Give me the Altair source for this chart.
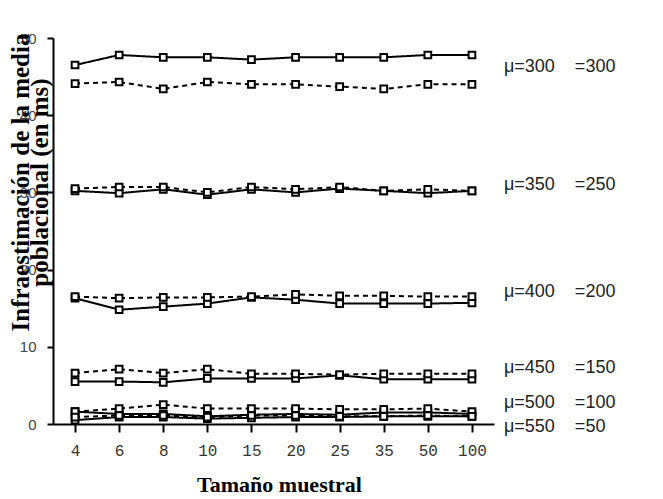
import altair as alt
import pandas as pd

sizes = ["4", "6", "8", "10", "15", "20", "25", "35", "50", "100"]

s300_solid = [46.5, 47.8, 47.5, 47.5, 47.2, 47.5, 47.5, 47.5, 47.8, 47.8]
s300_dash = [44.1, 44.3, 43.4, 44.3, 44.0, 44.0, 43.7, 43.4, 44.0, 44.0]
s350_solid = [30.2, 29.9, 30.4, 29.7, 30.4, 30.0, 30.5, 30.2, 29.9, 30.2]
s350_dash = [30.5, 30.7, 30.7, 30.0, 30.7, 30.4, 30.7, 30.2, 30.4, 30.2]
s400_solid = [16.3, 14.8, 15.2, 15.6, 16.4, 16.1, 15.6, 15.6, 15.6, 15.7]
s400_dash = [16.5, 16.3, 16.4, 16.4, 16.5, 16.8, 16.6, 16.6, 16.5, 16.5]
s450_solid = [5.5, 5.5, 5.4, 5.9, 5.9, 5.9, 6.3, 5.8, 5.8, 5.8]
s450_dash = [6.6, 7.1, 6.6, 7.1, 6.5, 6.5, 6.4, 6.5, 6.5, 6.5]
s500_solid = [1.6, 1.3, 1.3, 1.0, 1.2, 1.3, 1.2, 1.5, 1.5, 1.3]
s500_dash = [1.6, 2.0, 2.5, 2.0, 2.0, 2.0, 1.9, 1.9, 2.0, 1.6]
s550_solid = [0.5, 0.9, 0.9, 0.7, 0.8, 0.9, 0.9, 1.0, 1.0, 1.0]
s550_dash = [0.9, 1.1, 1.1, 0.9, 1.1, 1.1, 1.0, 1.0, 1.1, 1.0]

NB = "\u00a0"
label_text = ["μ=300" + NB * 4 + "=300", "μ=350" + NB * 4 + "=250",
              "μ=400" + NB * 4 + "=200", "μ=450" + NB * 4 + "=150",
              "μ=500" + NB * 4 + "=100", "μ=550" + NB * 4 + "=50"]
label_y = [46.2, 31.0, 17.1, 7.25, 2.7, -0.4]

series = {
    ("300", "solid"): s300_solid, ("300", "dash"): s300_dash,
    ("350", "solid"): s350_solid, ("350", "dash"): s350_dash,
    ("400", "solid"): s400_solid, ("400", "dash"): s400_dash,
    ("450", "solid"): s450_solid, ("450", "dash"): s450_dash,
    ("500", "solid"): s500_solid, ("500", "dash"): s500_dash,
    ("550", "solid"): s550_solid, ("550", "dash"): s550_dash,
}

rows = []
for (mu, style), vals in series.items():
    for s, v in zip(sizes, vals):
        rows.append({"size": s, "value": v, "series": mu + style, "style": style})
df = pd.DataFrame(rows)

lab_df = pd.DataFrame({"label": label_text, "y": label_y, "size": ["100"] * len(label_text)})

x_enc = alt.X("size:O", sort=sizes, scale=alt.Scale(padding=0.5),
              axis=alt.Axis(title="Tamaño muestral", labelAngle=0))
y_scale = alt.Scale(domain=[0, 50], nice=False)

lines = alt.Chart(df).mark_line(color="black", strokeWidth=2).encode(
    x=x_enc,
    y=alt.Y("value:Q", scale=y_scale,
            axis=alt.Axis(title=["Infraestimación de la media", "poblacional (en ms)"],
                          values=list(range(0, 51, 5)),
                          labelExpr="datum.value % 10 == 0 ? datum.label : ''")),
    detail="series:N",
    strokeDash=alt.StrokeDash("style:N", scale=alt.Scale(domain=["solid", "dash"],
                                                          range=[[1, 0], [5, 4]]),
                              legend=None),
)

points = alt.Chart(df).mark_point(shape="square", filled=True, fill="white",
                                  stroke="black", strokeWidth=2, size=45,
                                  opacity=1).encode(
    x=alt.X("size:O", sort=sizes),
    y=alt.Y("value:Q", scale=y_scale),
    detail="series:N",
)

labels = alt.Chart(lab_df).mark_text(align="left", baseline="middle", dx=32,
                                     font="Liberation Sans", fontSize=18,
                                     color="#222").encode(
    x=alt.X("size:O", sort=sizes),
    y=alt.Y("y:Q", scale=y_scale),
    text="label:N",
)

chart = alt.layer(lines, points, labels).properties(
    width=441, height=386,
    autosize=alt.AutoSizeParams(type="none"),
    padding={"left": 45, "top": 30, "right": 160, "bottom": 76},
).configure_view(stroke=None).configure_axis(
    domainColor="black", domainWidth=2, tickColor="black", tickWidth=2,
    grid=False,
).configure_axisX(
    tickSize=8, labelFont="Liberation Mono", labelFontSize=16, labelColor="#333",
    labelPadding=10, titleFont="Liberation Serif", titleFontSize=22,
    titleFontWeight="bold", titleColor="black", titleBaseline="middle", titleY=60,
    titleX=226,
).configure_axisY(
    tickSize=6, labelFont="Liberation Sans", labelFontSize=15, labelColor="#444",
    labelPadding=11, titleFont="Liberation Serif", titleFontSize=25,
    titleFontWeight="bold", titleColor="black", titleAngle=-90,
    titleBaseline="middle", titleX=-33, titleY=144, titleLineHeight=19,
)

chart.save("out.html", embed_options={"renderer": "svg", "actions": False})
